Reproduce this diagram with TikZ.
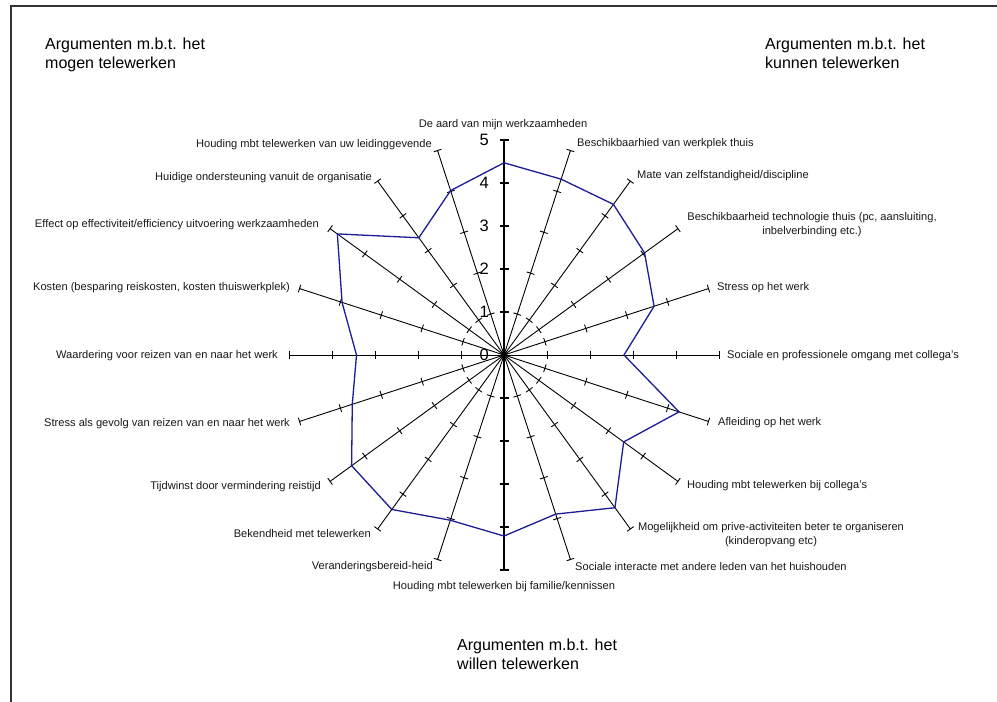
\documentclass[tikz,border=0pt]{standalone}
\usepackage{fontspec}
\setmainfont{Liberation Sans}
\begin{document}
\begin{tikzpicture}[x=1pt,y=-1pt,
  axisline/.style={black,line width=0.9pt},
  mainaxis/.style={black,line width=1.5pt},
  dataline/.style={draw=navyline,line width=1.3pt,line join=miter},
  lbl/.style={inner sep=0pt,text=black!90,font=\fontsize{11.1}{14}\selectfont,text height=8pt,text depth=2pt},
  lbltwo/.style={inner sep=0pt,text=black!90,font=\fontsize{11.1}{14.5}\selectfont,align=center},
  scalenum/.style={inner sep=0pt,anchor=east,font=\fontsize{16.5}{16.5}\selectfont},
  corner/.style={inner sep=0pt,anchor=north west,align=left,font=\fontsize{16}{19}\selectfont}]
\definecolor{navyline}{RGB}{28,28,150}
\useasboundingbox (0,0) rectangle (997,702);
\fill[white] (0,0) rectangle (997,702);

% frame
\draw[black!80,line width=1.4pt] (11,702) -- (11,6) -- (997,6);

% centre of the radar chart, 43pt per unit, 5 units
\coordinate (C) at (504,355);

% spokes with unit ticks
\foreach \k in {0,...,19}{
  \pgfmathsetmacro\ang{18*\k}
  \coordinate (e\k) at ({504+215*sin(\ang)},{355-215*cos(\ang)});
  \draw[axisline] (C) -- (e\k);
  \foreach \j in {1,...,5}{
    \draw[axisline] ({504+43*\j*sin(\ang)-4*cos(\ang)},{355-43*\j*cos(\ang)-4*sin(\ang)})
      -- ++({8*cos(\ang)},{8*sin(\ang)});
  }
}
\draw[mainaxis] (e10) -- (e0);
\foreach \j in {1,...,5}{
  \draw[mainaxis] (499.5,{355-43*\j}) -- (508.5,{355-43*\j});
  \draw[mainaxis] (499.5,{355+43*\j}) -- (508.5,{355+43*\j});
}
\fill[black] (C) circle (3.5);

% scale values
\foreach \j in {0,...,5}{
  \node[scalenum] (s\j) at (489,{355-43*\j}) {\j};
}

% data series
\foreach \v [count=\i from 0] in {4.47,4.30,4.33,4.04,3.67,2.79,4.28,3.44,4.39,3.89,
                                 4.21,4.04,4.44,4.38,3.71,3.43,3.96,4.79,3.37,4.02}{
  \coordinate (p\i) at ({504+43*\v*sin(18*\i)},{355-43*\v*cos(18*\i)});
}
\draw[dataline] (p0) -- (p1) -- (p2) -- (p3) -- (p4) -- (p5) -- (p6) -- (p7) -- (p8) -- (p9)
  -- (p10) -- (p11) -- (p12) -- (p13) -- (p14) -- (p15) -- (p16) -- (p17) -- (p18) -- (p19) -- cycle;

% category labels
\node[lbl,anchor=center] (l0) at (503,124) {De aard van mijn werkzaamheden};
\node[lbl,anchor=west] (l1) at (577,143) {Beschikbaarhied van werkplek thuis};
\node[lbl,anchor=west] (l2) at (637,175) {Mate van zelfstandigheid/discipline};
\node[lbltwo,anchor=center] (l3) at (812,224.5) {Beschikbaarheid technologie thuis (pc, aansluiting,\\inbelverbinding etc.)};
\node[lbl,anchor=west] (l4) at (717,287) {Stress op het werk};
\node[lbl,anchor=west] (l5) at (727,355) {Sociale en professionele omgang met collega's};
\node[lbl,anchor=west] (l6) at (718,422) {Afleiding op het werk};
\node[lbl,anchor=west] (l7) at (687,485) {Houding mbt telewerken bij collega's};
\node[lbltwo,anchor=center] (l8) at (771,534.5) {Mogelijkheid om prive-activiteiten beter te organiseren\\(kinderopvang etc)};
\node[lbl,anchor=west] (l9) at (575,567) {Sociale interacte met andere leden van het huishouden};
\node[lbl,anchor=center] (l10) at (504,586) {Houding mbt telewerken bij familie/kennissen};
\node[lbl,anchor=east] (l11) at (433,566) {Veranderingsbereid-heid};
\node[lbl,anchor=east] (l12) at (371,534) {Bekendheid met telewerken};
\node[lbl,anchor=east] (l13) at (321,486) {Tijdwinst door vermindering reistijd};
\node[lbl,anchor=east] (l14) at (290,423) {Stress als gevolg van reizen van en naar het werk};
\node[lbl,anchor=east] (l15) at (278,355) {Waardering voor reizen van en naar het werk};
\node[lbl,anchor=east] (l16) at (290,287) {Kosten (besparing reiskosten, kosten thuiswerkplek)};
\node[lbl,anchor=east] (l17) at (319,224) {Effect op effectiviteit/efficiency uitvoering werkzaamheden};
\node[lbl,anchor=east] (l18) at (372,177) {Huidige ondersteuning vanuit de organisatie};
\node[lbl,anchor=east] (l19) at (432,144) {Houding mbt telewerken van uw leidinggevende};

% group headings
\node[corner] (mogen) at (45,38) {Argumenten m.b.t. het\\mogen telewerken};
\node[corner] (kunnen) at (765,38) {Argumenten m.b.t. het\\kunnen telewerken};
\node[corner] (willen) at (457,638.5) {Argumenten m.b.t. het\\willen telewerken};
\end{tikzpicture}
\end{document}
